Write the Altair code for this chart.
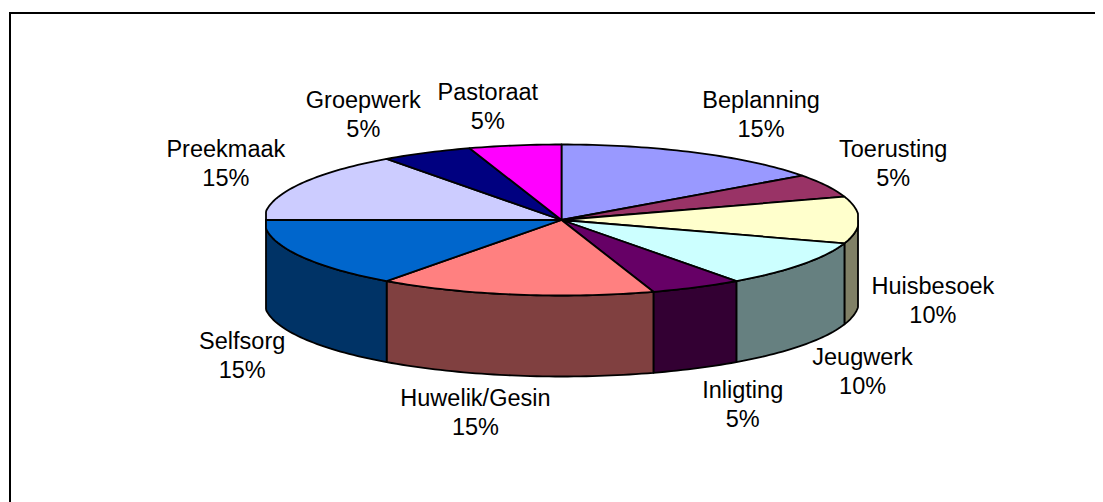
import math
import altair as alt
import pandas as pd

# --- chart values -----------------------------------------------------------
names = ["Beplanning", "Toerusting", "Huisbesoek", "Jeugwerk", "Inligting",
         "Huwelik/Gesin", "Selfsorg", "Preekmaak", "Groepwerk", "Pastoraat"]
shares = [15, 5, 10, 10, 5, 15, 15, 15, 5, 5]
top_colors = ["#9999FF", "#993366", "#FFFFCC", "#CCFFFF", "#660066",
              "#FF8080", "#0066CC", "#CCCCFF", "#000080", "#FF00FF"]
wall_colors = ["#4D4D80", "#4D1A33", "#808066", "#668080", "#330033",
               "#804040", "#003366", "#666680", "#000040", "#800080"]

# --- pie geometry (tilted pie laid out from the shares) ---------------------
CX, CY, RX, RY, DEPTH = 561.5, 220.0, 297.5, 75.5, 81.0
XMIN, XMAX = 266.0, 858.0
LABEL_RX, LABEL_RY = 310.0, 85.0
FONT_SIZE, LINE_H = 23.5, 29
ADV = dict(a=556, b=556, c=500, d=556, e=556, f=278, g=556, h=556, i=222, j=222,
           k=500, l=222, m=833, n=556, o=556, p=556, r=333, s=500, t=278, u=556,
           w=722, B=667, G=778, H=722, I=278, J=500, P=667, S=667, T=611)
ADV["/"] = 278


def rim(deg, drop=0.0):
    t = math.radians(deg)
    x = CX + RX * math.sin(t)
    return min(max(x, XMIN), XMAX), CY - RY * math.cos(t) + drop


def clamp(v):
    return max(-1.0, min(1.0, v))


top, walls, labels = [], [], []
start = 0.0
for name, share in zip(names, shares):
    end = start + share * 3.6
    steps = max(2, int(share * 3))
    arc = [start + (end - start) * k / steps for k in range(steps + 1)]
    pts = [(CX, CY)] + [rim(a) for a in arc] + [(CX, CY)]
    top += [dict(name=name, i=i, x=p[0], y=p[1]) for i, p in enumerate(pts)]

    lo, hi = max(start, 90.0), min(end, 270.0)
    if hi > lo:
        front = [lo + (hi - lo) * k / steps for k in range(steps + 1)]
        ring = [rim(a) for a in front] + [rim(a, DEPTH) for a in reversed(front)]
        ring.append(ring[0])
        walls += [dict(name=name, i=i, x=p[0], y=p[1]) for i, p in enumerate(ring)]

    mid = math.radians((start + end) / 2)
    s, c = math.sin(mid), math.cos(mid)
    w = sum(ADV[ch] for ch in name) / 1000 * FONT_SIZE
    h = 2 * LINE_H
    lx = CX + LABEL_RX * s + w / 2 * clamp(3.2 * s)
    ly = CY - LABEL_RY * c - h / 2 * clamp(1.25 * c) + (DEPTH if c <= 1e-9 else 0)
    labels.append(dict(name=name, pct=f"{share}%", x=lx, y1=ly - LINE_H / 2, y2=ly + LINE_H / 2))
    start = end

x_enc = alt.X("x:Q", axis=None, scale=alt.Scale(domain=[8, 1095], nice=False, zero=False))
y_scale = alt.Scale(domain=[502, 8], nice=False, zero=False)
y_enc = alt.Y("y:Q", axis=None, scale=y_scale)

frame = pd.DataFrame([dict(i=0, x=10, y=502), dict(i=1, x=10, y=13), dict(i=2, x=1095, y=13)])
frame_layer = alt.Chart(frame).mark_line(color="black", strokeWidth=2, clip=False).encode(
    x=x_enc, y=y_enc, order="i:Q")


def faces(rows, colors):
    return alt.Chart(pd.DataFrame(rows)).mark_line(
        stroke="black", strokeWidth=1.8, strokeJoin="round", clip=False
    ).encode(
        x=x_enc, y=y_enc, order="i:Q",
        fill=alt.Fill("name:N", legend=None, scale=alt.Scale(domain=names, range=colors)),
    )


lab = pd.DataFrame(labels)
txt = dict(font="Liberation Sans", fontSize=FONT_SIZE, color="black", align="center", baseline="middle")
name_layer = alt.Chart(lab).mark_text(**txt).encode(
    x=x_enc, y=alt.Y("y1:Q", axis=None, scale=y_scale), text="name:N")
pct_layer = alt.Chart(lab).mark_text(**txt).encode(
    x=x_enc, y=alt.Y("y2:Q", axis=None, scale=y_scale), text="pct:N")

chart = alt.layer(
    frame_layer, faces(walls, wall_colors), faces(top, top_colors), name_layer, pct_layer
).resolve_scale(fill="independent").properties(
    width=1087, height=494, padding=0, background="white",
    autosize=alt.AutoSizeParams(type="none"),
).configure_view(stroke=None)

chart.save("out.html", embed_options={"renderer": "svg", "actions": False})
